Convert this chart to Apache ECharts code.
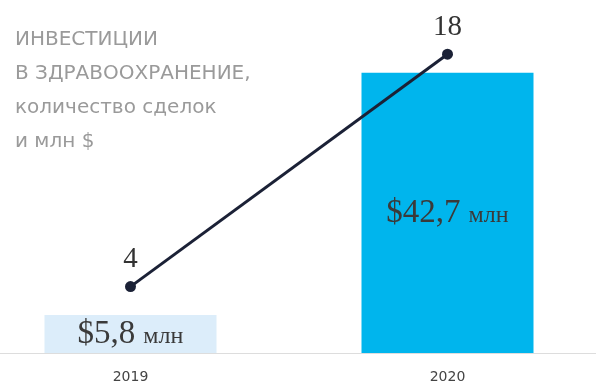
<!DOCTYPE html>
<html>
<head>
<meta charset="utf-8">
<script src="https://cdn.jsdelivr.net/npm/echarts@6/dist/echarts.min.js"></script>
<style>
  html, body { margin: 0; padding: 0; background: #fff; }
  #chart { width: 596px; height: 383px; }
</style>
</head>
<body>
<div id="chart"></div>
<script>
// Healthcare investment: deal count and volume (mln $)
const years = ['2019', '2020'];
const volumeMln = [5.8, 42.7];
const dealCount = [4, 18];
const volumeLabels = ['5,8', '42,7'];
const titleLines = ['ИНВЕСТИЦИИ', 'В ЗДРАВООХРАНЕНИЕ,', 'количество сделок', 'и млн $'];

const barColors = ['#dcedfa', '#00b5ed'];

const chart = echarts.init(document.getElementById('chart'), null, { renderer: 'canvas' });

chart.setOption({
  backgroundColor: '#ffffff',
  animation: false,
  title: {
    text: titleLines.join('\n'),
    left: 15,
    top: 23,
    padding: 0,
    textStyle: {
      fontFamily: 'DejaVu Sans',
      fontWeight: 'normal',
      fontSize: 20,
      lineHeight: 33.8,
      color: '#9a9a9a'
    }
  },
  grid: { left: -28, width: 634, top: 21, bottom: 30, outerBoundsMode: 'none', containLabel: false },
  xAxis: {
    type: 'category',
    data: years,
    axisTick: { show: false },
    axisLine: { lineStyle: { color: '#dddddd', width: 1 } },
    axisLabel: {
      margin: 17,
      fontFamily: 'DejaVu Sans',
      fontSize: 14,
      color: '#444444'
    }
  },
  yAxis: [
    { type: 'value', min: 0, max: 50.6, show: false, splitLine: { show: false } },
    { type: 'value', min: 0, max: 20, show: false, splitLine: { show: false } }
  ],
  series: [
    {
      type: 'bar',
      yAxisIndex: 0,
      barWidth: 172,
      data: volumeMln.map((v, i) => ({ value: v, itemStyle: { color: barColors[i] } })),
      label: {
        show: true,
        position: 'inside',
        formatter: p => '{big|$' + volumeLabels[p.dataIndex] + '}{small|млн}',
        rich: {
          big: { fontFamily: 'Liberation Serif', fontSize: 33, color: '#3a3a3a' },
          small: { fontFamily: 'Liberation Serif', fontSize: 24, color: '#3a3a3a', padding: [5, 0, 0, 8] }
        }
      },
      z: 1
    },
    {
      type: 'line',
      yAxisIndex: 1,
      data: dealCount,
      symbol: 'circle',
      symbolSize: 11,
      lineStyle: { color: '#1b2136', width: 3 },
      itemStyle: { color: '#1b2136' },
      label: {
        show: true,
        position: 'top',
        distance: 7,
        fontFamily: 'Liberation Serif',
        fontSize: 29,
        color: '#333333'
      },
      z: 3
    }
  ]
});
</script>
</body>
</html>
